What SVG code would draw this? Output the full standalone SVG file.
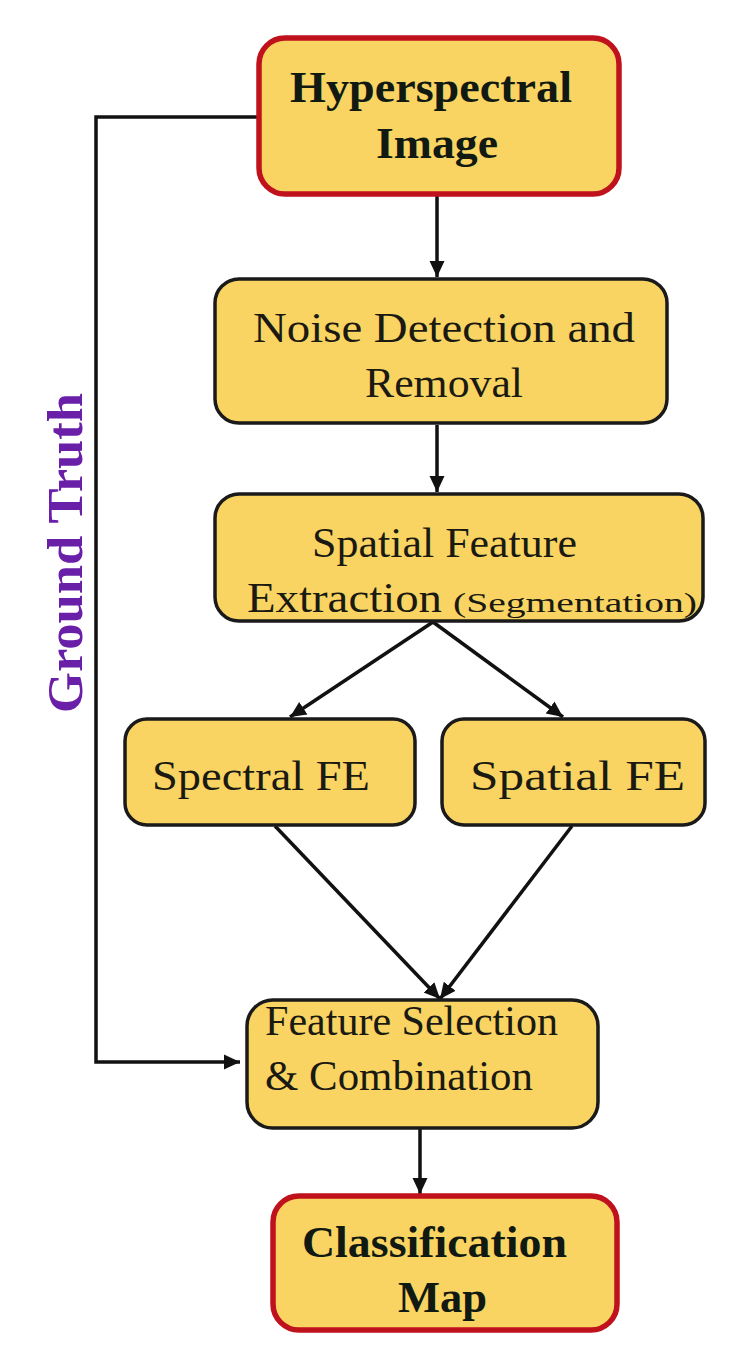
<svg xmlns="http://www.w3.org/2000/svg" width="750" height="1370" viewBox="0 0 750 1370">
<style>
.box{fill:#f9d462;stroke:#1a1a1a;stroke-width:3.5}
.term{fill:#f9d462;stroke:#c0121c;stroke-width:5.5}
.t{font-family:"Liberation Serif",serif;font-size:42px;fill:#1a1a12}
.b{font-family:"Liberation Serif",serif;font-size:44px;font-weight:bold;fill:#111a12}
.gt{font-family:"Liberation Serif",serif;font-size:50px;font-weight:bold;fill:#6a1fa8}
.c{fill:none;stroke:#111;stroke-width:3.5}
</style>
<defs>
<marker id="ah" markerUnits="userSpaceOnUse" markerWidth="18" markerHeight="18" viewBox="0 0 18 18" refX="16" refY="9" orient="auto">
<path d="M0,1.5 L16,9 L0,16.5 Z" fill="#111"/>
</marker>
</defs>
<g id="connectors">
<path class="c" d="M258,117 H96 V1062 H240" marker-end="url(#ah)"/>
<path class="c" d="M437,195 V277" marker-end="url(#ah)"/>
<path class="c" d="M437,425 V492" marker-end="url(#ah)"/>
<path class="c" d="M433,622 L290,717" marker-end="url(#ah)"/>
<path class="c" d="M433,622 L563,717" marker-end="url(#ah)"/>
<path class="c" d="M275,826 L440,999" marker-end="url(#ah)"/>
<path class="c" d="M572,826 L440,999" marker-end="url(#ah)"/>
<path class="c" d="M420,1129 V1194" marker-end="url(#ah)"/>
</g>
<g id="ground-truth">
<text class="gt" transform="translate(82,553) rotate(-90)" text-anchor="middle" textLength="320" lengthAdjust="spacingAndGlyphs">Ground Truth</text>
</g>
<g id="hyperspectral">
<rect class="term" x="259" y="38" width="360" height="156" rx="26"/>
<text class="b" x="290" y="102" textLength="282" lengthAdjust="spacingAndGlyphs">Hyperspectral</text>
<text class="b" x="376" y="158" textLength="122" lengthAdjust="spacingAndGlyphs">Image</text>
</g>
<g id="noise">
<rect class="box" x="215" y="279" width="452" height="144" rx="24"/>
<text class="t" x="253" y="342" textLength="382" lengthAdjust="spacingAndGlyphs">Noise Detection and</text>
<text class="t" x="365" y="397" textLength="158" lengthAdjust="spacingAndGlyphs">Removal</text>
</g>
<g id="spatial-feature">
<rect class="box" x="215" y="494" width="488" height="127" rx="24"/>
<text class="t" x="312" y="557" textLength="265" lengthAdjust="spacingAndGlyphs">Spatial Feature</text>
<text class="t" x="247" y="612" textLength="195" lengthAdjust="spacingAndGlyphs">Extraction</text>
<text class="t" x="453" y="612" style="font-size:27px" textLength="244" lengthAdjust="spacingAndGlyphs">(Segmentation)</text>
</g>
<g id="spectral-fe">
<rect class="box" x="125" y="719" width="290" height="106" rx="22"/>
<text class="t" x="152" y="790" textLength="218" lengthAdjust="spacingAndGlyphs">Spectral FE</text>
</g>
<g id="spatial-fe">
<rect class="box" x="442" y="719" width="263" height="106" rx="22"/>
<text class="t" x="470" y="790" textLength="215" lengthAdjust="spacingAndGlyphs">Spatial FE</text>
</g>
<g id="feature-selection">
<rect class="box" x="247" y="1000" width="351" height="128" rx="26"/>
<text class="t" x="265" y="1035" textLength="293" lengthAdjust="spacingAndGlyphs">Feature Selection</text>
<text class="t" x="265" y="1090" textLength="268" lengthAdjust="spacingAndGlyphs">&amp; Combination</text>
</g>
<g id="classification">
<rect class="term" x="273" y="1196" width="344" height="134" rx="26"/>
<text class="b" x="302" y="1257" textLength="265" lengthAdjust="spacingAndGlyphs">Classification</text>
<text class="b" x="398" y="1312" textLength="89" lengthAdjust="spacingAndGlyphs">Map</text>
</g>
</svg>
